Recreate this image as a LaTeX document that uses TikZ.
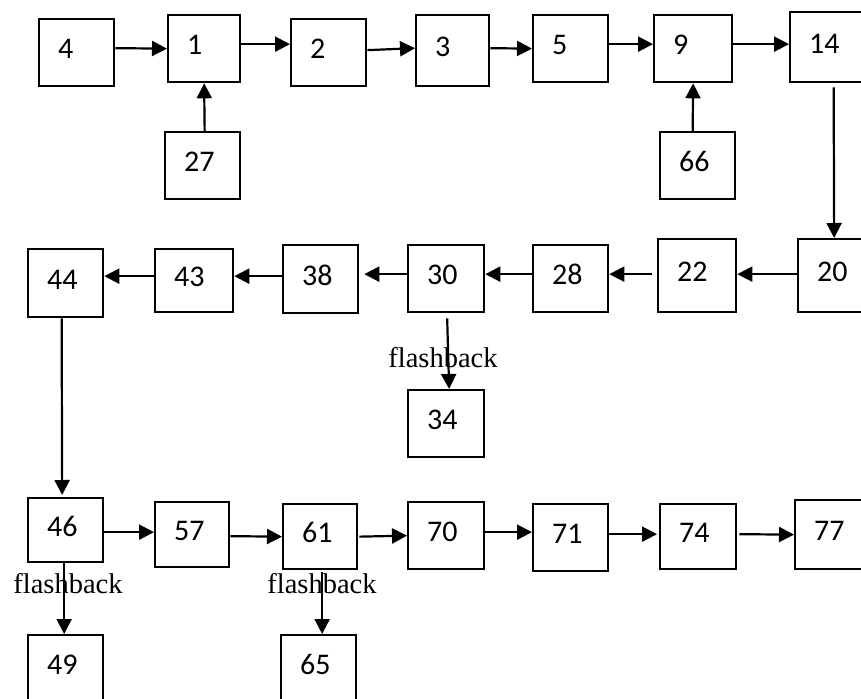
\documentclass[tikz,border=0pt]{standalone}
\usepackage{fontspec}
\newfontfamily\numfont{Carlito}
\newfontfamily\flashfont{Liberation Serif}
\usetikzlibrary{arrows.meta}

\tikzset{
  box/.style 2 args={draw, line width=2.3pt, anchor=north west, align=left,
    inner xsep=19pt, inner ysep=0pt, text width=#1pt-38pt, minimum height=#2pt,
    text height=19pt, text depth=7pt, font=\numfont\fontsize{30}{34}\selectfont},
  link/.style={line width=2.2pt, -{Triangle[length=15pt,width=15pt]}},
  flash/.style={anchor=base, inner sep=0pt, font=\flashfont\fontsize{28.5}{32}\selectfont}
}

\begin{document}
\begin{tikzpicture}[x=1pt, y=-1pt]
    \useasboundingbox (0,0) rectangle (861,698);
    \clip (0,0) rectangle (861,698);

    \node[box={75}{67}] (b4)  at (38,18)  {4};
    \node[box={72}{67}] (b1)  at (167,14) {1};
    \node[box={75}{67}] (b2)  at (290,18) {2};
    \node[box={73}{71}] (b3)  at (415,14) {3};
    \node[box={75}{67}] (b5)  at (532,14) {5};
    \node[box={78}{67}] (b9)  at (653,14) {9};
    \node[box={75}{70}] (b14) at (789,11) {14};
    \node[box={75}{67}] (b27) at (164,131) {27};
    \node[box={75}{67}] (b66) at (659,131) {66};

    \node[box={75}{68}] (b44) at (27,248)  {44};
    \node[box={78}{63}] (b43) at (154,248) {43};
    \node[box={75}{68}] (b38) at (282,244) {38};
    \node[box={76}{67}] (b30) at (407,244) {30};
    \node[box={75}{67}] (b28) at (532,244) {28};
    \node[box={78}{73}] (b22) at (657,238) {22};
    \node[box={75}{73}] (b20) at (797,238) {20};
    \node[box={76}{67}] (b34) at (407,389) {34};

    \node[box={75}{64}] (b46) at (27,497)  {46};
    \node[box={74}{65}] (b57) at (154,501) {57};
    \node[box={74}{65}] (b61) at (282,503) {61};
    \node[box={76}{67}] (b70) at (407,501) {70};
    \node[box={75}{67}] (b71) at (532,503) {71};
    \node[box={76}{65}] (b74) at (659,503) {74};
    \node[box={75}{69}] (b77) at (794,499) {77};
    \node[box={75}{67}] (b49) at (27,634)  {49};
    \node[box={75}{67}] (b65) at (280,634) {65};

    \node[flash] (fb30) at (443,367) {flashback};
    \node[flash] (fb46) at (68,593)  {flashback};
    \node[flash] (fb61) at (322,593) {flashback};

    \draw[link] ([yshift=4.5pt]b4.east) -- (b1.west);
    \draw[link] ([yshift=4.5pt]b1.east) -- ([yshift=8.5pt]b2.west);
    \draw[link] ([yshift=2.5pt]b2.east) -- ([yshift=2.5pt]b3.west);
    \draw[link] ([yshift=2.5pt]b3.east) -- (b5.west);
    \draw[link] ([yshift=4.5pt]b5.east) -- ([yshift=4.5pt]b9.west);
    \draw[link] ([yshift=4.5pt]b9.east) -- ([yshift=3pt]b14.west);
    \draw[link] ([xshift=2pt]b27.north) -- (b1.south);
    \draw[link] ([xshift=-5pt]b66.north) -- (b9.south);
    \draw[link] ([xshift=6pt,yshift=-4pt]b14.south) -- ([xshift=-1.5pt]b20.north);

    \draw[link] ([yshift=1.5pt]b20.west) -- ([yshift=1.5pt]b22.east);
    \draw[link] ([xshift=-5pt,yshift=1.5pt]b22.west) -- ([yshift=4.5pt]b28.east);
    \draw[link] ([yshift=4.5pt]b28.west) -- ([yshift=4.5pt]b30.east);
    \draw[link] ([yshift=4.5pt]b30.west) -- ([xshift=5pt,yshift=5pt]b38.east);
    \draw[link] ([yshift=3pt]b38.west) -- ([yshift=4.5pt]b43.east);
    \draw[link] ([yshift=4.5pt]b43.west) -- ([yshift=7pt]b44.east);
    \draw[link] ([xshift=1pt,yshift=-5pt]b30.south) -- ([xshift=3pt]b34.north);
    \draw[link] ([xshift=-4pt]b44.south) -- ([xshift=-3.5pt,yshift=2pt]b46.north);

    \draw[link] ([yshift=-2pt]b46.east) -- ([yshift=2.5pt]b57.west);
    \draw[link] ([yshift=-1.5pt]b57.east) -- (b61.west);
    \draw[link] ([xshift=1pt]b61.east) -- (b70.west);
    \draw[link] ([yshift=3.5pt]b70.east) -- ([yshift=5.5pt]b71.west);
    \draw[link] ([yshift=3.5pt]b71.east) -- ([xshift=-2pt,yshift=2.5pt]b74.west);
    \draw[link] ([xshift=2pt,yshift=2.5pt]b74.east) -- (b77.west);
    \draw[link] ([xshift=-1.5pt]b46.south) -- ([xshift=-1.5pt]b49.north);
    \draw[link] ([xshift=2pt,yshift=-2pt]b61.south) -- ([xshift=3.5pt]b65.north);
\end{tikzpicture}
\end{document}
